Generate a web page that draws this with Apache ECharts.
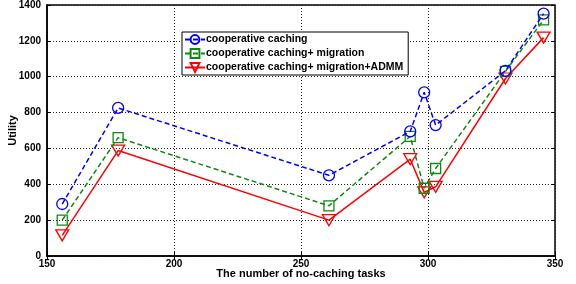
<!DOCTYPE html>
<html>
<head>
<meta charset="utf-8">
<script src="https://cdn.jsdelivr.net/npm/echarts@6/dist/echarts.min.js"></script>
<style>
  html, body { margin: 0; padding: 0; background: #fff; }
  #chart { width: 576px; height: 284px; }
</style>
</head>
<body>
<div id="chart"></div>
<script>
// number of no-caching tasks (x positions of the measured points)
const tasks = [156, 178, 261, 293, 298.5, 303, 330.5, 345.5]
const coop = [290, 826, 450, 695, 913, 730, 1033, 1352]
const coopMig = [200, 660, 280, 667, 378, 488, 1030, 1317]
const coopMigAdmm = [115, 588, 200, 540, 355, 386, 990, 1218]
const seriesNames = ['cooperative caching', 'cooperative caching+ migration', 'cooperative caching+ migration+ADMM']

const font = 'Arial, "Liberation Sans", sans-serif'

function pairs(ys) {
  return tasks.map((x, i) => [x, ys[i]])
}

const chart = echarts.init(document.getElementById('chart'))

const gridLine = { show: true, lineStyle: { color: '#222', type: [1, 2], width: 1 } }
const tick = { show: true, inside: true, length: 4, lineStyle: { color: '#000' } }
const axisText = { color: '#000', fontFamily: font, fontWeight: 'bold', fontSize: 10 }

chart.setOption({
  animation: false,
  grid: {
    left: 47,
    right: 21,
    top: 5,
    bottom: 28,
    outerBoundsMode: 'none',
    show: true,
    borderColor: '#000',
    borderWidth: 1.5
  },
  legend: {
    left: 182,
    top: 32,
    orient: 'vertical',
    itemGap: 3,
    itemWidth: 20,
    itemHeight: 11,
    padding: [2, 5, 2, 2],
    backgroundColor: '#fff',
    borderColor: '#000',
    borderWidth: 1,
    borderRadius: 0,
    textStyle: { color: '#000', fontFamily: font, fontWeight: 'bold', fontSize: 10.5, padding: [0, 0, 0, -4] },
    data: seriesNames
  },
  xAxis: [{
    type: 'value',
    min: 150,
    max: 350,
    interval: 50,
    name: 'The number of no-caching tasks',
    nameLocation: 'middle',
    nameGap: 12,
    nameMoveOverlap: false,
    nameTextStyle: { color: '#000', fontFamily: font, fontWeight: 'bold', fontSize: 11, verticalAlign: 'top' },
    axisLine: { show: true, lineStyle: { color: '#000', width: 1.5 } },
    axisTick: tick,
    axisLabel: Object.assign({ margin: 3 }, axisText),
    splitLine: gridLine
  }, {
    type: 'value',
    position: 'top',
    min: 150,
    max: 350,
    interval: 50,
    axisLine: { show: false },
    axisTick: tick,
    axisLabel: { show: false },
    splitLine: { show: false }
  }],
  yAxis: [{
    type: 'value',
    min: 0,
    max: 1400,
    interval: 200,
    name: 'Utility',
    nameLocation: 'middle',
    nameGap: 34,
    nameMoveOverlap: false,
    nameTextStyle: { color: '#000', fontFamily: font, fontWeight: 'bold', fontSize: 11, verticalAlign: 'middle' },
    axisLine: { show: true, lineStyle: { color: '#000', width: 1.5 } },
    axisTick: tick,
    axisLabel: Object.assign({ margin: 6, formatter: v => String(v) }, axisText),
    splitLine: gridLine
  }, {
    type: 'value',
    position: 'right',
    min: 0,
    max: 1400,
    interval: 200,
    axisLine: { show: false },
    axisTick: tick,
    axisLabel: { show: false },
    splitLine: { show: false }
  }],
  series: [{
    name: seriesNames[0],
    type: 'line',
    data: pairs(coop),
    symbol: 'circle',
    symbolSize: 11,
    itemStyle: { color: 'rgba(0,0,0,0)', borderColor: '#0000ff', borderWidth: 1.3 },
    lineStyle: { color: '#0000ff', width: 1.5, type: [5, 3] },
    z: 4
  }, {
    name: seriesNames[1],
    type: 'line',
    data: pairs(coopMig),
    symbol: 'rect',
    symbolSize: 10,
    itemStyle: { color: 'rgba(0,0,0,0)', borderColor: '#118811', borderWidth: 1.3 },
    lineStyle: { color: '#118811', width: 1.5, type: [5, 3] },
    z: 3
  }, {
    name: seriesNames[2],
    type: 'line',
    data: pairs(coopMigAdmm),
    symbol: 'triangle',
    symbolRotate: 180,
    symbolSize: [13, 11],
    itemStyle: { color: 'rgba(0,0,0,0)', borderColor: '#ff0000', borderWidth: 1.3 },
    lineStyle: { color: '#ff0000', width: 1.5 },
    z: 2
  }]
})
</script>
</body>
</html>
